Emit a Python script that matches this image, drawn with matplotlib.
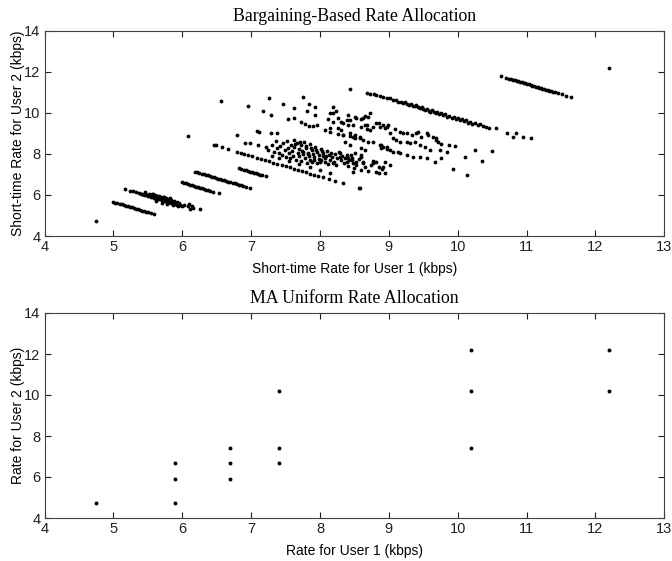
import matplotlib
matplotlib.use("Agg")
import matplotlib.pyplot as plt

# ---------------- data: top panel (bargaining-based short-time rates) ----------------
single_pts = [(4.75, 4.75), (12.2, 12.2), (6.09, 8.85)]

seg_1066 = [(5.00, 5.66), (5.03, 5.63), (5.06, 5.60), (5.09, 5.57), (5.12, 5.54), (5.15, 5.51),
            (5.18, 5.48), (5.21, 5.45), (5.24, 5.42), (5.27, 5.39), (5.30, 5.36), (5.33, 5.33),
            (5.36, 5.30), (5.39, 5.27), (5.42, 5.24), (5.45, 5.21), (5.48, 5.18), (5.51, 5.15),
            (5.54, 5.12), (5.59, 5.07)]

seg_1145 = [(5.17, 6.29), (5.24, 6.21), (5.28, 6.17), (5.33, 6.12), (5.37, 6.09), (5.40, 6.06),
            (5.42, 6.04), (5.45, 6.02), (5.47, 6.00), (5.49, 5.98), (5.51, 5.96), (5.53, 5.93),
            (5.55, 5.92), (5.57, 5.89), (5.59, 5.87), (5.61, 5.85), (5.63, 5.83), (5.65, 5.82),
            (5.67, 5.79), (5.69, 5.78), (5.71, 5.75), (5.73, 5.73), (5.75, 5.71), (5.77, 5.69),
            (5.79, 5.67), (5.81, 5.65), (5.83, 5.63), (5.85, 5.61), (5.87, 5.59), (5.89, 5.57),
            (5.91, 5.55), (5.93, 5.53), (5.95, 5.51), (5.97, 5.49), (6.00, 5.47), (6.03, 5.50),
            (6.08, 5.45), (6.12, 5.33), (6.16, 5.35), (6.26, 5.31)]

seg_1158 = [(5.46, 6.12), (5.52, 6.07), (5.56, 6.03), (5.60, 5.99), (5.64, 5.95), (5.68, 5.91),
            (5.72, 5.88), (5.76, 5.84), (5.80, 5.80), (5.84, 5.76), (5.88, 5.72), (5.92, 5.68),
            (5.96, 5.62), (6.10, 5.56), (6.14, 5.46), (5.62, 5.70), (5.70, 5.62), (5.78, 5.56),
            (5.86, 5.50), (5.94, 5.44), (5.58, 6.05), (5.66, 5.97), (5.74, 5.90), (5.82, 5.83)]

seg_1262 = [(5.99, 6.62), (6.02, 6.59), (6.05, 6.56), (6.08, 6.53), (6.11, 6.50), (6.14, 6.47),
            (6.17, 6.44), (6.20, 6.41), (6.23, 6.38), (6.26, 6.35), (6.29, 6.32), (6.32, 6.29),
            (6.35, 6.26), (6.38, 6.23), (6.41, 6.20), (6.45, 6.16), (6.53, 6.08)]

seg_1332 = [(6.19, 7.13), (6.22, 7.10), (6.25, 7.07), (6.28, 7.04), (6.31, 7.01), (6.34, 6.98),
            (6.37, 6.95), (6.40, 6.92), (6.43, 6.89), (6.46, 6.86), (6.49, 6.83), (6.52, 6.80),
            (6.55, 6.77), (6.58, 6.74), (6.61, 6.71), (6.64, 6.68), (6.67, 6.65), (6.70, 6.62),
            (6.73, 6.59), (6.76, 6.56), (6.79, 6.53), (6.82, 6.50), (6.85, 6.47), (6.88, 6.44),
            (6.93, 6.39), (6.99, 6.33)]

seg_1412 = [(6.83, 7.29), (6.86, 7.26), (6.89, 7.23), (6.92, 7.20), (6.95, 7.17), (6.98, 7.14),
            (7.01, 7.11), (7.04, 7.08), (7.07, 7.05), (7.10, 7.02), (7.13, 6.99), (7.16, 6.96),
            (7.21, 6.91)]

seg_1490 = [(6.46, 8.44), (6.49, 8.41), (6.58, 8.32), (6.66, 8.24), (6.80, 8.10), (6.85, 8.05),
            (6.90, 8.00), (6.96, 7.94), (7.02, 7.88), (7.08, 7.82), (7.15, 7.75), (7.20, 7.70),
            (7.26, 7.64), (7.32, 7.58), (7.38, 7.52), (7.45, 7.45), (7.50, 7.40), (7.56, 7.34),
            (7.62, 7.28), (7.68, 7.22), (7.74, 7.16), (7.80, 7.10), (7.86, 7.04), (7.92, 6.98),
            (7.97, 6.93), (8.05, 6.86), (8.13, 6.77), (8.22, 6.68), (8.34, 6.56), (8.56, 6.35),
            (7.30, 7.92), (7.40, 7.80), (7.55, 7.66), (7.70, 7.50), (7.85, 7.36), (8.00, 7.22),
            (8.15, 7.05)]

cluster_mid = [(7.22, 8.32), (7.25, 8.20), (7.30, 8.45), (7.33, 8.10), (7.36, 8.62), (7.38, 8.28),
               (7.40, 8.05), (7.42, 8.40), (7.45, 7.95), (7.47, 8.52), (7.49, 8.18), (7.50, 7.85),
               (7.52, 8.65), (7.54, 8.30), (7.55, 8.02), (7.57, 7.78), (7.58, 8.45), (7.60, 8.12),
               (7.61, 7.92), (7.62, 8.70), (7.63, 8.35), (7.65, 7.70), (7.66, 8.55), (7.68, 8.05),
               (7.69, 8.22), (7.70, 7.88), (7.72, 8.42), (7.73, 7.65), (7.74, 8.15), (7.76, 7.98),
               (7.77, 8.60), (7.78, 7.80), (7.80, 8.30), (7.81, 7.58), (7.82, 8.05), (7.84, 7.92),
               (7.85, 8.48), (7.86, 7.72), (7.88, 8.18), (7.89, 7.62), (7.90, 8.00), (7.92, 7.85),
               (7.93, 8.35), (7.95, 7.55), (7.96, 8.10), (7.98, 7.75), (7.99, 7.95), (8.01, 8.25),
               (8.02, 7.68), (8.04, 7.88), (8.05, 8.05), (8.07, 7.60), (8.08, 7.80), (8.10, 8.15),
               (8.11, 7.50), (8.13, 7.95), (8.15, 7.72), (8.16, 8.05), (8.18, 7.85), (8.20, 7.62),
               (8.22, 7.98), (8.24, 7.45), (8.25, 7.78), (8.27, 8.10), (8.30, 7.68), (8.32, 7.92),
               (8.35, 7.55), (8.37, 7.82), (8.40, 7.40), (8.42, 7.70), (8.45, 7.95), (8.48, 7.58),
               (8.50, 7.30), (8.53, 7.48), (8.56, 7.75), (8.60, 7.22), (8.62, 7.55), (8.66, 7.38),
               (8.70, 7.15), (8.74, 7.45), (8.78, 7.62), (8.82, 7.10), (8.85, 7.35), (8.90, 7.25),
               (8.95, 7.05), (7.64, 8.48), (7.71, 8.58), (7.79, 8.40), (7.87, 8.28), (7.94, 8.20),
               (8.03, 8.12), (7.75, 8.08), (7.83, 7.98), (7.91, 7.70), (8.00, 7.62), (8.09, 7.92),
               (8.19, 7.55), (8.29, 7.86), (8.39, 7.60), (8.47, 7.82), (8.29, 8.03), (8.39, 7.95),
               (8.41, 7.78), (8.46, 7.70), (8.53, 7.62), (8.60, 7.87), (8.63, 7.62), (8.77, 7.54),
               (8.85, 7.05), (8.92, 7.38), (9.01, 7.46), (8.48, 7.13), (8.58, 6.32)]

cluster_upper = [(6.57, 10.57), (6.96, 10.35), (7.26, 10.70), (7.18, 10.10), (7.29, 9.89),
                 (7.47, 10.41), (7.62, 10.22), (7.75, 10.79), (7.84, 10.43), (7.93, 10.30),
                 (7.81, 10.10), (7.54, 9.70), (7.62, 9.73), (7.73, 9.54), (7.78, 9.45),
                 (7.84, 9.38), (7.90, 9.36), (7.95, 9.42), (7.93, 9.89), (6.80, 8.92),
                 (7.09, 9.11), (7.12, 9.05), (7.29, 9.03), (7.38, 9.03), (6.91, 8.55),
                 (6.98, 8.55), (7.10, 8.43), (8.19, 10.30), (8.24, 10.10), (8.14, 9.97),
                 (8.19, 10.00), (8.12, 9.68), (8.26, 9.73), (8.31, 9.57), (8.41, 9.89),
                 (8.43, 9.65), (8.53, 9.76), (8.60, 9.68), (8.65, 9.85), (8.72, 9.97),
                 (8.82, 9.49), (8.87, 9.33), (8.97, 9.33), (8.14, 9.25), (8.26, 9.25),
                 (8.31, 9.16), (8.43, 9.00), (8.51, 8.92), (8.58, 8.84), (8.60, 8.27),
                 (8.65, 8.19), (8.36, 8.60), (8.43, 8.43), (8.51, 8.03), (8.60, 7.95),
                 (8.77, 7.65), (8.82, 7.62), (8.07, 9.16), (8.14, 9.08), (8.26, 8.97),
                 (8.33, 8.92), (8.43, 8.89), (8.51, 8.76), (8.58, 8.76), (8.70, 8.60),
                 (8.89, 8.43), (8.97, 8.35), (8.19, 9.57), (8.34, 9.52), (8.41, 9.41),
                 (8.48, 9.41), (8.68, 9.41), (8.92, 9.41), (8.99, 9.41)]

cluster_right = [(8.39, 9.65), (8.51, 9.78), (8.63, 9.75), (8.70, 9.81), (8.65, 9.41), (8.77, 9.33),
                 (8.85, 9.49), (8.94, 9.24), (8.34, 8.92), (8.48, 8.84), (8.63, 8.68), (8.77, 8.60),
                 (8.87, 8.43), (8.89, 8.27), (8.92, 8.35), (8.60, 9.33), (8.68, 9.20), (8.72, 9.17),
                 (9.01, 9.00), (9.09, 9.20), (9.16, 9.08), (9.21, 9.00), (9.26, 9.00), (9.33, 8.92),
                 (9.40, 9.00), (9.43, 9.08), (9.47, 8.84), (9.55, 9.00), (9.57, 8.92), (9.64, 8.84),
                 (9.69, 8.68), (9.72, 8.60), (9.76, 8.48), (9.06, 8.76), (9.11, 8.68), (9.16, 8.60),
                 (9.26, 8.60), (9.31, 8.52), (9.38, 8.60), (9.45, 8.43), (9.52, 8.35), (9.60, 8.19),
                 (9.74, 8.19), (9.84, 8.11), (9.96, 8.38), (9.88, 8.43), (9.69, 8.76),
                 (9.01, 8.19), (9.06, 8.11), (9.13, 8.11), (9.16, 8.03), (9.26, 7.95), (9.35, 7.87),
                 (9.45, 7.83), (9.55, 7.78), (9.67, 7.62), (9.76, 7.78), (9.93, 7.26), (10.14, 6.97),
                 (10.10, 7.83), (10.25, 8.19), (10.35, 7.65), (10.50, 8.14), (8.98, 8.24), (8.95, 7.62)]

seg_1970 = [(8.44, 11.16), (8.69, 10.95), (8.73, 10.93), (8.78, 10.90), (8.82, 10.86), (8.87, 10.83),
            (8.92, 10.78), (8.97, 10.74), (9.01, 10.70), (9.06, 10.64), (9.10, 10.62), (9.14, 10.55),
            (9.18, 10.54), (9.21, 10.49), (9.24, 10.52), (9.27, 10.43), (9.30, 10.40), (9.32, 10.42),
            (9.35, 10.34), (9.38, 10.31), (9.40, 10.36), (9.43, 10.28), (9.45, 10.22), (9.48, 10.26),
            (9.50, 10.19), (9.53, 10.13), (9.55, 10.17), (9.58, 10.10), (9.60, 10.06), (9.63, 10.12),
            (9.65, 10.03), (9.68, 9.98), (9.70, 10.04), (9.73, 9.94), (9.76, 9.97), (9.79, 9.88),
            (9.82, 9.92), (9.85, 9.82), (9.88, 9.86), (9.91, 9.77), (9.94, 9.80), (9.97, 9.71),
            (10.00, 9.75), (10.03, 9.66), (10.06, 9.69), (10.09, 9.60), (10.12, 9.63), (10.15, 9.52),
            (10.18, 9.56), (10.21, 9.47), (10.25, 9.50), (10.29, 9.41), (10.33, 9.44), (10.37, 9.35),
            (10.41, 9.30), (10.46, 9.28), (10.56, 9.25), (10.71, 9.00), (10.85, 9.00), (10.80, 8.81),
            (10.95, 8.81), (11.06, 8.76)]

seg_2241 = [(10.63, 11.78), (10.70, 11.71), (10.74, 11.67), (10.77, 11.64), (10.80, 11.61),
            (10.83, 11.58), (10.86, 11.55), (10.88, 11.53), (10.91, 11.50), (10.93, 11.48),
            (10.96, 11.45), (10.98, 11.43), (11.01, 11.40), (11.03, 11.38), (11.06, 11.35),
            (11.08, 11.33), (11.11, 11.30), (11.13, 11.28), (11.16, 11.25), (11.18, 11.23),
            (11.21, 11.20), (11.23, 11.18), (11.26, 11.15), (11.28, 11.13), (11.31, 11.10),
            (11.33, 11.08), (11.36, 11.05), (11.39, 11.02), (11.42, 10.99), (11.46, 10.95),
            (11.51, 10.90), (11.57, 10.84), (11.64, 10.77)]

bargaining_groups = [single_pts, seg_1066, seg_1145, seg_1158, seg_1262, seg_1332, seg_1412,
                     seg_1490, cluster_mid, cluster_upper, cluster_right, seg_1970, seg_2241]

# ---------------- data: bottom panel (MA uniform rate allocation) ----------------
ma_user1 = [4.75, 5.9, 5.9, 5.9, 6.7, 6.7, 6.7, 7.4, 7.4, 7.4, 10.2, 10.2, 10.2, 12.2, 12.2]
ma_user2 = [4.75, 4.75, 5.9, 6.7, 5.9, 6.7, 7.4, 6.7, 7.4, 10.2, 7.4, 10.2, 12.2, 10.2, 12.2]

x_ticks = [4, 5, 6, 7, 8, 9, 10, 11, 12, 13]
y_ticks = [4, 6, 8, 10, 12, 14]

# ---------------- figure ----------------
W, H = 672, 561
fig = plt.figure(figsize=(W / 100, H / 100), dpi=100)

sans = ["Liberation Sans", "DejaVu Sans"]
serif = ["Liberation Serif", "DejaVu Serif"]


def style(ax):
    ax.set_xlim(4, 13)
    ax.set_ylim(4, 14)
    ax.set_xticks(x_ticks)
    ax.set_yticks(y_ticks)
    ax.tick_params(direction="in", length=4, width=0.8, top=True, right=True,
                   labelsize=10.5, colors="#202020", pad=3)
    for lab in ax.get_xticklabels() + ax.get_yticklabels():
        lab.set_family(sans)
    for sp in ax.spines.values():
        sp.set_color("#404040")
        sp.set_linewidth(0.8)


ax1 = fig.add_axes([44.5 / W, 1 - 236 / H, (664.3 - 44.5) / W, (236 - 30.7) / H])
bx = [p[0] for g in bargaining_groups for p in g]
by = [p[1] for g in bargaining_groups for p in g]
ax1.scatter(bx, by, s=7.5, c="black", marker="o", linewidths=0)
style(ax1)
ax1.set_title("Bargaining-Based Rate Allocation", family=serif, fontsize=12.8, pad=7)
ax1.set_xlabel("Short-time Rate for User 1 (kbps)", family=sans, fontsize=10, labelpad=6)
ax1.set_ylabel("Short-time Rate for User 2 (kbps)", family=sans, fontsize=10, labelpad=-1)

ax2 = fig.add_axes([44.5 / W, 1 - 518 / H, (664.3 - 44.5) / W, (518 - 313) / H])
ax2.scatter(ma_user1, ma_user2, s=8, c="black", marker="o", linewidths=0)
style(ax2)
ax2.set_title("MA Uniform Rate Allocation", family=serif, fontsize=12.8, pad=7)
ax2.set_xlabel("Rate for User 1 (kbps)", family=sans, fontsize=10, labelpad=6)
ax2.set_ylabel("Rate for User 2 (kbps)", family=sans, fontsize=10, labelpad=-1)

fig.savefig("out.png", dpi=100)
